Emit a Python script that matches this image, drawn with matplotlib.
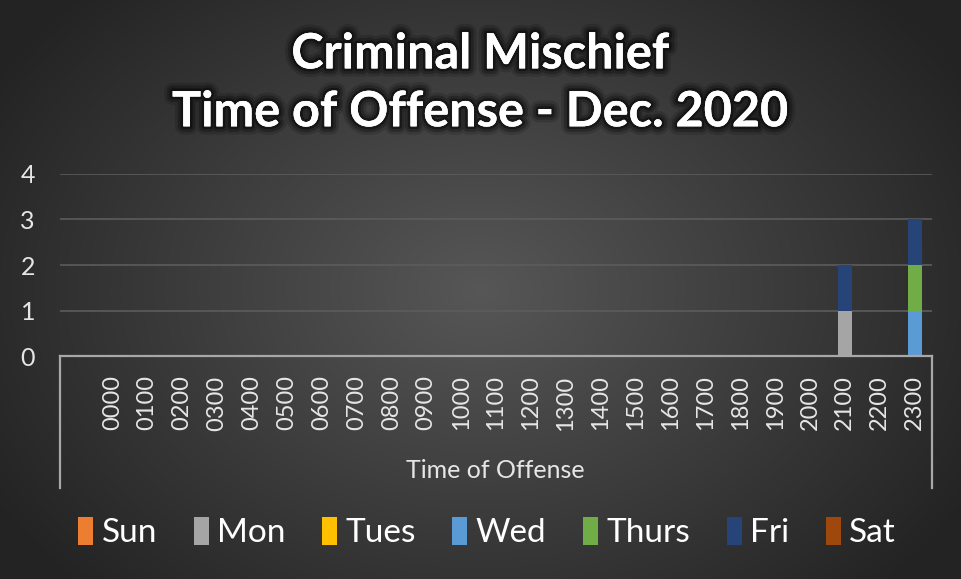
import numpy as np
import matplotlib
matplotlib.use("Agg")
import matplotlib.pyplot as plt
import matplotlib.patheffects as pe
from matplotlib.lines import Line2D
from matplotlib.patches import Patch

plt.rcParams['font.family'] = ['Lato', 'DejaVu Sans']

# categories (Excel sheet has a blank first row)
hours = ["", "0000", "0100", "0200", "0300", "0400", "0500", "0600", "0700",
         "0800", "0900", "1000", "1100", "1200", "1300", "1400", "1500",
         "1600", "1700", "1800", "1900", "2000", "2100", "2200", "2300"]

days = ["Sun", "Mon", "Tues", "Wed", "Thurs", "Fri", "Sat"]
colors = ["#ED7D31", "#A5A5A5", "#FFC000", "#5B9BD5", "#70AD47", "#264478", "#9E480E"]

sun   = [0, 0, 0, 0, 0, 0, 0, 0, 0, 0, 0, 0, 0, 0, 0, 0, 0, 0, 0, 0, 0, 0, 0, 0, 0]
mon   = [0, 0, 0, 0, 0, 0, 0, 0, 0, 0, 0, 0, 0, 0, 0, 0, 0, 0, 0, 0, 0, 0, 1, 0, 0]
tues  = [0, 0, 0, 0, 0, 0, 0, 0, 0, 0, 0, 0, 0, 0, 0, 0, 0, 0, 0, 0, 0, 0, 0, 0, 0]
wed   = [0, 0, 0, 0, 0, 0, 0, 0, 0, 0, 0, 0, 0, 0, 0, 0, 0, 0, 0, 0, 0, 0, 0, 0, 1]
thurs = [0, 0, 0, 0, 0, 0, 0, 0, 0, 0, 0, 0, 0, 0, 0, 0, 0, 0, 0, 0, 0, 0, 0, 0, 1]
fri   = [0, 0, 0, 0, 0, 0, 0, 0, 0, 0, 0, 0, 0, 0, 0, 0, 0, 0, 0, 0, 0, 0, 1, 0, 1]
sat   = [0, 0, 0, 0, 0, 0, 0, 0, 0, 0, 0, 0, 0, 0, 0, 0, 0, 0, 0, 0, 0, 0, 0, 0, 0]
series = [sun, mon, tues, wed, thurs, fri, sat]

fig = plt.figure(figsize=(9.61, 5.79), dpi=100)

# radial gradient background
bg = fig.add_axes([0, 0, 1, 1], zorder=-10)
yy, xx = np.mgrid[0:579, 0:961]
r = np.sqrt(((xx - 480) / 560.0) ** 2 + ((yy - 290) / 420.0) ** 2)
shade = np.clip(0.34 - 0.2 * r, 0.14, 0.34)
bg.imshow(np.dstack([shade, shade, shade]), aspect='auto', extent=[0, 1, 0, 1])
bg.axis('off')

ax = fig.add_axes([0.0624, 0.3851, 0.9074, 0.3144])
ax.patch.set_alpha(0)
x = np.arange(len(hours))
bottom = np.zeros(len(hours))
for name, vals, c in zip(days, series, colors):
    ax.bar(x, vals, width=0.4, bottom=bottom, color=c, label=name, zorder=3)
    bottom += np.array(vals)

ax.set_xlim(-0.5, len(hours) - 0.5)
ax.set_ylim(0, 4)
ax.set_yticks([0, 1, 2, 3, 4])
ax.grid(axis='y', color='#5c5c5c', linewidth=1.2, zorder=0)
for s in ax.spines.values():
    s.set_visible(False)
ax.set_xticks(x)
ax.set_xticklabels(hours, rotation=90, va='top', fontsize=17, color='#e6e6e6')
ax.tick_params(axis='x', length=0, pad=14)
ax.tick_params(axis='y', length=0, pad=18, labelsize=18, labelcolor='#e6e6e6')

# multi-level axis box
box_col = '#a8a8a8'
ax.add_line(Line2D([0, 1], [0, 0], transform=ax.transAxes, color=box_col, lw=1.6, clip_on=False, zorder=4))
ax.add_line(Line2D([0, 0], [0, -0.725], transform=ax.transAxes, color=box_col, lw=1.6, clip_on=False))
ax.add_line(Line2D([1, 1], [0, -0.725], transform=ax.transAxes, color=box_col, lw=1.6, clip_on=False))

fig.text(0.515, 0.188, "Time of Offense", ha='center', va='center', fontsize=18, color='#e6e6e6')

title = fig.text(0.5, 0.857, "Criminal Mischief\nTime of Offense - Dec. 2020", ha='center', va='center',
                 fontsize=35, fontweight='bold', color='white', linespacing=1.35)
title.set_path_effects([pe.withStroke(linewidth=12, foreground='black', alpha=0.15),
                        pe.withStroke(linewidth=8, foreground='black', alpha=0.25),
                        pe.withStroke(linewidth=4, foreground='black', alpha=0.4),
                        pe.Normal()])

handles = [Patch(facecolor=c, label=d) for d, c in zip(days, colors)]
fig.legend(handles=handles, loc='center', bbox_to_anchor=(0.507, 0.08), ncol=7, frameon=False,
           fontsize=24, labelcolor='white', handlelength=0.45, handleheight=0.9,
           handletextpad=0.25, columnspacing=1.1)

fig.savefig("out.png", dpi=100)
